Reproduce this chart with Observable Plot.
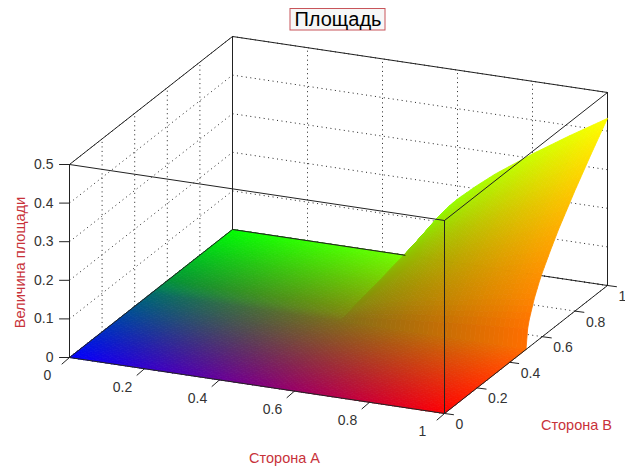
<!DOCTYPE html>
<html><head><meta charset="utf-8">
<script src="https://cdn.jsdelivr.net/npm/d3@7"></script>
<script src="https://cdn.jsdelivr.net/npm/@observablehq/plot@0.6"></script>
<style>html,body{margin:0;padding:0;background:#fff}svg{display:block}</style>
</head><body><div id="c"></div>
<script>
// Surface: sides A, B (grid) and the area height
const sideA = [0, 0.25, 0.5, 0.51, 0.52, 0.55, 0.58, 0.6, 0.65, 0.7, 0.8, 0.9, 1];
const sideB = [0, 0.25, 0.5, 0.51, 0.52, 0.55, 0.58, 0.6, 0.65, 0.7, 0.8, 0.9, 1];
const row000 = [0, 0, 0, 0, 0, 0, 0, 0, 0, 0, 0, 0, 0];
const row051 = [0, 0, 0, 0.006, 0.008, 0.013, 0.017, 0.019, 0.024, 0.028, 0.036, 0.043, 0.050];
const row052 = [0, 0, 0, 0.008, 0.012, 0.019, 0.024, 0.027, 0.034, 0.040, 0.051, 0.062, 0.071];
const row055 = [0, 0, 0, 0.013, 0.019, 0.030, 0.039, 0.044, 0.055, 0.065, 0.082, 0.099, 0.114];
const row058 = [0, 0, 0, 0.017, 0.024, 0.039, 0.050, 0.056, 0.070, 0.083, 0.106, 0.127, 0.147];
const row060 = [0, 0, 0, 0.019, 0.027, 0.044, 0.056, 0.064, 0.080, 0.094, 0.120, 0.143, 0.166];
const row065 = [0, 0, 0, 0.024, 0.034, 0.055, 0.070, 0.080, 0.099, 0.117, 0.149, 0.179, 0.207];
const row070 = [0, 0, 0, 0.028, 0.040, 0.065, 0.083, 0.094, 0.117, 0.139, 0.176, 0.211, 0.245];
const row080 = [0, 0, 0, 0.036, 0.051, 0.082, 0.106, 0.120, 0.149, 0.176, 0.225, 0.269, 0.312];
const row090 = [0, 0, 0, 0.043, 0.062, 0.099, 0.127, 0.143, 0.179, 0.211, 0.269, 0.323, 0.374];
const row100 = [0, 0, 0, 0.050, 0.071, 0.114, 0.147, 0.166, 0.207, 0.245, 0.312, 0.374, 0.433];
// index: area[iB][iA]
const area = [row000, row000, row000, row051, row052, row055, row058, row060, row065, row070, row080, row090, row100];

const tickAB = [0, 0.2, 0.4, 0.6, 0.8, 1];
const tickZ = [0, 0.1, 0.2, 0.3, 0.4, 0.5];
const titleText = "Площадь";
const labelA = "Сторона A", labelB = "Сторона В", labelZ = "Величина площади";

// Orthographic view of the box, in page pixels
const proj = (a, b, z = 0) => [69 + 375 * a + 163 * b, 357 + 56 * a - 128 * b - 386 * z];

// Colour data: red follows A, green follows B, blue fades with both
const greenAt = d3.scaleLinear([0, 0.5, 0.55, 1], [0, 0.42, 0.52, 1]);
const blueAt = d3.scaleLinear([0, 0.5, 0.6, 1], [1, 0.42, 0.22, 0]);
const colorOf = (a, b) => `rgb(${Math.round(255 * a)},${Math.round(255 * greenAt(b))},${Math.round(255 * (1 - a) * blueAt(b) * Math.max(0, 1 - 2 * a * b))})`;

// Interp-shaded mesh: each table cell is split into small facets
const refine = (axis, step) => {
  const out = [];
  for (let i = 0; i < axis.length - 1; i++) {
    const n = Math.max(1, Math.ceil((axis[i + 1] - axis[i]) / step - 1e-9));
    for (let k = 0; k < n; k++) out.push({i, t: k / n, v: axis[i] + (axis[i + 1] - axis[i]) * k / n});
  }
  out.push({i: axis.length - 2, t: 1, v: 1});
  return out;
};
const zAt = (pa, pb) => {
  const z00 = area[pb.i][pa.i], z10 = area[pb.i][pa.i + 1], z01 = area[pb.i + 1][pa.i], z11 = area[pb.i + 1][pa.i + 1];
  return (z00 * (1 - pa.t) + z10 * pa.t) * (1 - pb.t) + (z01 * (1 - pa.t) + z11 * pa.t) * pb.t;
};
const ra = refine(sideA, 0.0125), rb = refine(sideB, 0.0125);
const facets = [];
let fid = 0;
for (let j = rb.length - 2; j >= 0; j--) {
  for (let i = 0; i < ra.length - 1; i++) {
    const col = colorOf((ra[i].v + ra[i + 1].v) / 2, (rb[j].v + rb[j + 1].v) / 2);
    const corners = [[i, j], [i + 1, j], [i + 1, j + 1], [i, j + 1], [i, j]];
    for (const [u, w] of corners) {
      const [x, y] = proj(ra[u].v, rb[w].v, zAt(ra[u], rb[w]));
      facets.push({x, y, id: fid, col});
    }
    fid++;
  }
}

const seg = (id, p, q) => [{x: p[0], y: p[1], id}, {x: q[0], y: q[1], id}];
const back = [], frontBox = [], dots = [], ticks = [];
tickZ.forEach((z, k) => {
  dots.push(...seg("zl" + k, proj(0, 0, z), proj(0, 1, z)), ...seg("zb" + k, proj(0, 1, z), proj(1, 1, z)));
  ticks.push(...seg("tz" + k, proj(0, 0, z), [proj(0, 0, z)[0] - 10, proj(0, 0, z)[1]]));
});
tickAB.forEach((v, k) => {
  dots.push(...seg("ab" + k, proj(v, 1, 0), proj(v, 1, 0.5)), ...seg("al" + k, proj(v, 0, 0), proj(v, 1, 0)));
  dots.push(...seg("bw" + k, proj(0, v, 0), proj(0, v, 0.5)), ...seg("bf" + k, proj(0, v, 0), proj(1, v, 0)));
  const pa = proj(v, 0, 0), pb = proj(1, v, 0);
  ticks.push(...seg("ta" + k, pa, [pa[0] - 7.5, pa[1] + 6.5]), ...seg("tb" + k, pb, [pb[0] + 9, pb[1] + 1.2]));
});
back.push(...seg("b1", proj(0, 1, 0), proj(0, 1, 0.5)), ...seg("b2", proj(0, 1, 0.5), proj(1, 1, 0.5)),
  ...seg("b3", proj(1, 1, 0), proj(1, 1, 0.5)), ...seg("b4", proj(0, 1, 0), proj(1, 1, 0)),
  ...seg("b5", proj(0, 0, 0), proj(0, 0, 0.5)), ...seg("b6", proj(0, 0, 0.5), proj(0, 1, 0.5)));
frontBox.push(...seg("f1", proj(0, 0, 0), proj(1, 0, 0)), ...seg("f2", proj(1, 0, 0), proj(1, 1, 0)),
  ...seg("f3", proj(0, 0, 0), proj(0, 1, 0)), ...seg("f4", proj(1, 0, 0), proj(1, 0, 0.5)),
  ...seg("f5", proj(0, 0, 0.5), proj(1, 0, 0.5)), ...seg("f6", proj(1, 0, 0.5), proj(1, 1, 0.5)),
  ...seg("f7", proj(0, 1, 0), proj(0.46, 1, 0)));

const font = "Liberation Sans, Arial, sans-serif";
const labA = tickAB.map(v => { const p = proj(v, 0, 0); return {x: p[0] - 22, y: p[1] + 18.5, t: String(v)}; });
const labB = tickAB.map(v => { const p = proj(1, v, 0); return {x: p[0] + 11, y: p[1] + 11, t: String(v)}; });
const labZ = tickZ.map(z => { const p = proj(0, 0, z); return {x: p[0] - 16, y: p[1], t: String(z)}; });

const chart = Plot.plot({
  width: 625, height: 468, margin: 0,
  x: {domain: [0, 625], range: [0, 625], axis: null},
  y: {domain: [0, 468], range: [0, 468], axis: null},
  style: {background: "#fff", fontFamily: font},
  marks: [
    Plot.line(dots, {x: "x", y: "y", z: "id", stroke: "#222", strokeWidth: 1, strokeDasharray: "1,3.5", strokeLinecap: "butt", curve: "linear"}),
    Plot.line(back, {x: "x", y: "y", z: "id", stroke: "#222", strokeWidth: 1}),
    Plot.line(facets, {x: "x", y: "y", z: "id", fill: "col", stroke: "col", strokeWidth: 0.8}),
    Plot.line(frontBox, {x: "x", y: "y", z: "id", stroke: "#222", strokeWidth: 1}),
    Plot.line(ticks, {x: "x", y: "y", z: "id", stroke: "#222", strokeWidth: 1}),
    Plot.text(labA, {x: "x", y: "y", text: "t", fontSize: 14, fill: "#333", textAnchor: "middle"}),
    Plot.text(labB, {x: "x", y: "y", text: "t", fontSize: 14, fill: "#333", textAnchor: "start"}),
    Plot.text(labZ, {x: "x", y: "y", text: "t", fontSize: 14, fill: "#333", textAnchor: "end"}),
    Plot.rect([{x1: 290, x2: 385, y1: 8.5, y2: 30}], {x1: "x1", x2: "x2", y1: "y1", y2: "y2", fill: "#f7f7f7", stroke: "#c8555a", strokeWidth: 1}),
    Plot.text([titleText], {x: () => 337.5, y: () => 19.5, text: d => d, fontSize: 20, fill: "#000", textAnchor: "middle"}),
    Plot.text([labelA], {x: () => 284, y: () => 458, text: d => d, fontSize: 14.5, fill: "#c8323a", textAnchor: "middle"}),
    Plot.text([labelB], {x: () => 576, y: () => 425, text: d => d, fontSize: 14.5, fill: "#c8323a", textAnchor: "middle"}),
    Plot.text([labelZ], {x: () => 19.5, y: () => 262, text: d => d, fontSize: 14.6, fill: "#c8323a", rotate: -90, textAnchor: "middle"})
  ]
});
document.getElementById("c").append(chart);
</script></body></html>
